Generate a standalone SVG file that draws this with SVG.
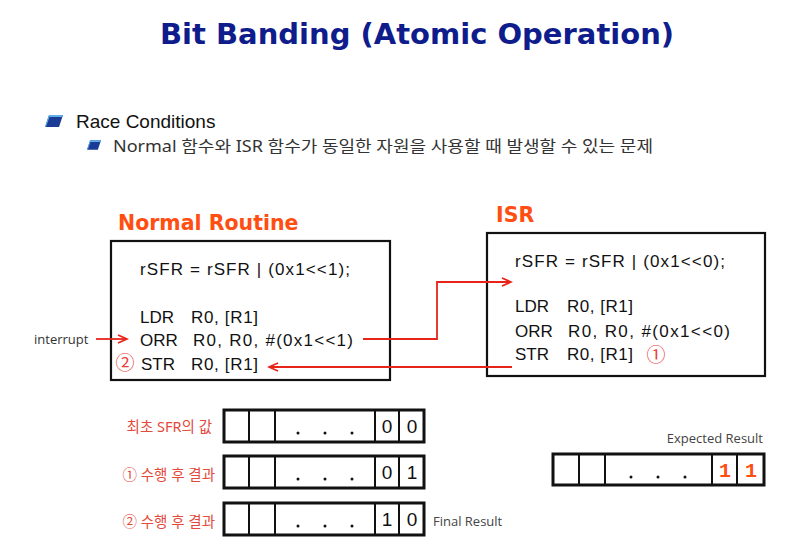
<svg xmlns="http://www.w3.org/2000/svg" width="802" height="551" viewBox="0 0 802 551">
<style>
.title{font-family:"DejaVu Sans",Verdana,sans-serif;font-weight:bold;font-size:29px;fill:#0f1c8c}
.h{font-family:"DejaVu Sans",Verdana,sans-serif;font-weight:bold;font-size:20.5px;fill:#ff4e12}
.code{font-family:"Liberation Sans",Arial,sans-serif;font-size:17px;fill:#111}
.lbl{font-family:"Noto Sans","Noto Sans CJK KR",sans-serif;font-size:14.5px;fill:#e24a3c}
.note{font-family:"Open Sans","Noto Sans",sans-serif;font-size:13px;fill:#444}
.bit{font-family:"Liberation Sans",Arial,sans-serif;font-size:19px;fill:#111;text-anchor:middle}
.bitx{font-family:"Liberation Mono","Courier New",monospace;font-weight:bold;font-size:20px;fill:#ff4e12;text-anchor:middle}
.dot{fill:#111}
.box{fill:#fff;stroke:#111;stroke-width:2.2}
.reg{fill:#fff;stroke:#111;stroke-width:3}
.div{stroke:#111;stroke-width:2}
.arr{fill:none;stroke:#e8241a;stroke-width:1.8}
.circ{font-family:"Noto Sans CJK KR","DejaVu Sans",sans-serif;font-size:19px;fill:#e8403a;text-anchor:middle}
</style>
<defs>
<marker id="ah" markerWidth="12" markerHeight="10" refX="10" refY="5" orient="auto" markerUnits="userSpaceOnUse">
<path d="M1,1 L10,5 L1,9" fill="none" stroke="#e8241a" stroke-width="1.8"/>
</marker>
<symbol id="bullet" viewBox="0 0 18 12">
<path d="M4,0 L18,0 L14,12 L0,12 Z" fill="#1b3c96"/>
<path d="M4,0 L18,0 L17,2 L4.5,2 L1,12 L0,12 Z" fill="#5fb0e8"/>
</symbol>
</defs>

<text class="title" x="160" y="44">Bit Banding (Atomic Operation)</text>

<use href="#bullet" x="45" y="115" width="18" height="12"/>
<text x="76" y="128" style="font-family:'Liberation Sans',Arial,sans-serif;font-size:19px;fill:#111">Race Conditions</text>
<use href="#bullet" x="87" y="140" width="14" height="10"/>
<text x="113" y="152" textLength="540" lengthAdjust="spacingAndGlyphs" style="font-family:'Noto Sans','Noto Sans CJK KR',sans-serif;font-size:16px;fill:#333">Normal 함수와 ISR 함수가 동일한 자원을 사용할 때 발생할 수 있는 문제</text>

<g id="normal">
<text class="h" x="118" y="230">Normal Routine</text>
<rect class="box" x="111" y="241" width="279" height="139"/>
<text class="code" x="140" y="275" textLength="210" lengthAdjust="spacing">rSFR = rSFR | (0x1&lt;&lt;1);</text>
<text class="code" x="140" y="323">LDR</text>
<text class="code" x="191" y="323" textLength="67" lengthAdjust="spacing">R0, [R1]</text>
<text class="code" x="140" y="346">ORR</text>
<text class="code" x="193" y="346" textLength="160" lengthAdjust="spacing">R0, R0, #(0x1&lt;&lt;1)</text>
<text class="circ" x="125" y="370">②</text>
<text class="code" x="141" y="370">STR</text>
<text class="code" x="191" y="370" textLength="67" lengthAdjust="spacing">R0, [R1]</text>
</g>

<g id="isr">
<text class="h" x="496" y="222">ISR</text>
<rect class="box" x="487" y="233" width="278" height="143"/>
<text class="code" x="515" y="267" textLength="210" lengthAdjust="spacing">rSFR = rSFR | (0x1&lt;&lt;0);</text>
<text class="code" x="515" y="312">LDR</text>
<text class="code" x="567" y="312" textLength="66" lengthAdjust="spacing">R0, [R1]</text>
<text class="code" x="515" y="337">ORR</text>
<text class="code" x="568" y="337" textLength="162" lengthAdjust="spacing">R0, R0, #(0x1&lt;&lt;0)</text>
<text class="code" x="515" y="360">STR</text>
<text class="code" x="567" y="360" textLength="66" lengthAdjust="spacing">R0, [R1]</text>
<text class="circ" x="656" y="362">①</text>
</g>

<g id="connectors">
<text class="note" x="34" y="344" style="fill:#333">interrupt</text>
<line class="arr" x1="96" y1="339" x2="127" y2="339" marker-end="url(#ah)"/>
<polyline class="arr" points="363,339 437,339 437,282 511,282" marker-end="url(#ah)"/>
<line class="arr" x1="512" y1="367" x2="269" y2="367" marker-end="url(#ah)"/>
</g>

<g id="reg-init">
<text class="lbl" x="212" y="432" text-anchor="end">최초 SFR의 값</text>
<rect class="reg" x="224" y="410" width="200" height="32"/>
<line class="div" x1="249" y1="410" x2="249" y2="442"/>
<line class="div" x1="275" y1="410" x2="275" y2="442"/>
<line class="div" x1="375" y1="410" x2="375" y2="442"/>
<line class="div" x1="399" y1="410" x2="399" y2="442"/>
<circle class="dot" cx="298" cy="433" r="1.5"/><circle class="dot" cx="325" cy="433" r="1.5"/><circle class="dot" cx="352" cy="433" r="1.5"/>
<text class="bit" x="387" y="433">0</text>
<text class="bit" x="412" y="433">0</text>
</g>

<g id="reg-step1">
<text class="lbl" x="215" y="480" text-anchor="end">① 수행 후 결과</text>
<rect class="reg" x="224" y="456" width="200" height="32"/>
<line class="div" x1="249" y1="456" x2="249" y2="488"/>
<line class="div" x1="275" y1="456" x2="275" y2="488"/>
<line class="div" x1="375" y1="456" x2="375" y2="488"/>
<line class="div" x1="399" y1="456" x2="399" y2="488"/>
<circle class="dot" cx="298" cy="479" r="1.5"/><circle class="dot" cx="325" cy="479" r="1.5"/><circle class="dot" cx="352" cy="479" r="1.5"/>
<text class="bit" x="387" y="479">0</text>
<text class="bit" x="412" y="479">1</text>
</g>

<g id="reg-step2">
<text class="lbl" x="215" y="527" text-anchor="end">② 수행 후 결과</text>
<rect class="reg" x="224" y="503" width="200" height="32"/>
<line class="div" x1="249" y1="503" x2="249" y2="535"/>
<line class="div" x1="275" y1="503" x2="275" y2="535"/>
<line class="div" x1="375" y1="503" x2="375" y2="535"/>
<line class="div" x1="399" y1="503" x2="399" y2="535"/>
<circle class="dot" cx="298" cy="526" r="1.5"/><circle class="dot" cx="325" cy="526" r="1.5"/><circle class="dot" cx="352" cy="526" r="1.5"/>
<text class="bit" x="387" y="526">1</text>
<text class="bit" x="412" y="526">0</text>
<text class="note" x="433" y="526">Final Result</text>
</g>

<g id="reg-expected">
<text class="note" x="763" y="443" text-anchor="end">Expected Result</text>
<rect class="reg" x="553" y="454" width="211" height="31"/>
<line class="div" x1="579" y1="454" x2="579" y2="485"/>
<line class="div" x1="605" y1="454" x2="605" y2="485"/>
<line class="div" x1="712" y1="454" x2="712" y2="485"/>
<line class="div" x1="737" y1="454" x2="737" y2="485"/>
<circle class="dot" cx="631" cy="477" r="1.5"/><circle class="dot" cx="658" cy="477" r="1.5"/><circle class="dot" cx="685" cy="477" r="1.5"/>
<text class="bitx" x="725" y="477">1</text>
<text class="bitx" x="751" y="477">1</text>
</g>
</svg>
